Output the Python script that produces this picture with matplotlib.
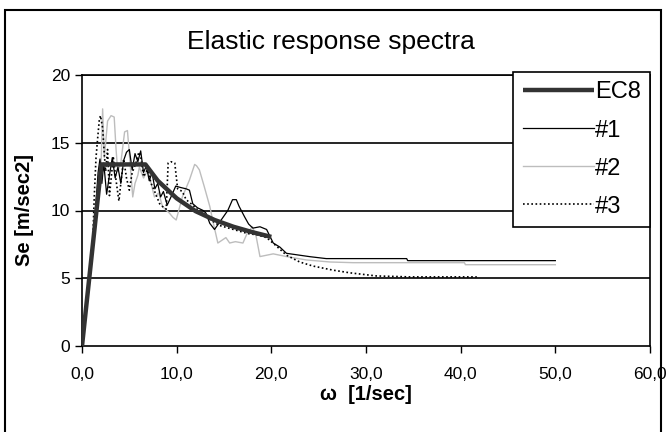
import matplotlib
matplotlib.use("Agg")
import matplotlib.pyplot as plt
from matplotlib.patches import Rectangle

plt.rcParams['font.family'] = ['Liberation Sans', 'DejaVu Sans']

title = "Elastic response spectra"
xlabel = "ω  [1/sec]"
ylabel = "Se [m/sec2]"
xticks = [0, 10, 20, 30, 40, 50, 60]
xticklabels = ["0,0", "10,0", "20,0", "30,0", "40,0", "50,0", "60,0"]
yticks = [0, 5, 10, 15, 20]

ec8_w = [0, 2.05, 6.7, 8.0, 10.0, 12.0, 14.0, 16.0, 18.0, 20.0]
ec8_v = [0, 13.4, 13.4, 12.2, 10.9, 9.95, 9.3, 8.8, 8.4, 8.05]

r1_w = [0, 0.4, 0.8, 1.1, 1.4, 1.7, 1.9, 2.1, 2.3, 2.6, 2.9, 3.2, 3.5, 3.8, 4.1, 4.4,
        4.7, 5.0, 5.3, 5.6, 5.9, 6.2, 6.5, 6.8, 7.1, 7.4, 7.7, 8.0, 8.3, 8.6, 9.0, 9.4,
        9.9, 10.4, 11.0, 11.35, 11.7, 12.2, 12.8, 13.1, 13.5, 14.0, 14.7, 15.4, 15.9,
        16.3, 16.6, 17.2, 17.6, 18.05, 18.8, 19.5, 20.2, 20.9, 21.6, 24.1, 25.8, 34.3,
        34.4, 50.0]
r1_v = [0, 2.5, 4.9, 7.2, 9.8, 12.8, 13.8, 12.0, 13.5, 11.2, 12.6, 13.9, 12.4, 13.2,
        12.0, 13.7, 14.3, 14.5, 13.0, 14.2, 13.6, 14.4, 12.8, 13.3, 12.2, 12.8, 11.6,
        12.0, 11.0, 11.4, 10.4, 11.0, 11.8, 11.7, 11.6, 11.5, 10.5, 10.2, 10.0, 9.8,
        9.05, 8.6, 9.3, 10.0, 10.8, 10.8, 10.3, 9.5, 9.0, 8.7, 8.8, 8.6, 7.6, 7.3,
        6.84, 6.59, 6.45, 6.45, 6.3, 6.3]

r2_w = [0, 0.4, 0.8, 1.2, 1.5, 1.8, 2.0, 2.18, 2.36, 2.7, 3.07, 3.4, 3.6, 3.77, 4.1,
        4.5, 4.8, 5.0, 5.36, 5.6, 5.9, 6.06, 6.5, 6.94, 7.3, 7.65, 8.1, 8.5, 9.24, 9.6,
        9.95, 10.6, 11.35, 11.9, 12.1, 12.4, 12.9, 13.5, 13.8, 14.35, 15.2, 15.6, 16.2,
        17.0, 17.5, 18.0, 18.4, 18.8, 20.2, 21.6, 23.7, 26.2, 28.6, 40.4, 40.5, 50.0]
r2_v = [0, 2.2, 4.6, 7.6, 9.8, 11.1, 13.0, 17.5, 13.9, 16.6, 17.0, 16.9, 14.5, 12.9,
        13.5, 15.8, 15.9, 14.2, 11.0, 12.0, 12.6, 13.2, 12.4, 13.0, 12.0, 11.0, 11.3,
        10.3, 9.8, 9.5, 9.3, 11.0, 12.25, 13.4, 13.3, 13.0, 11.8, 10.3, 9.3, 7.6, 8.0,
        7.6, 7.7, 7.6, 8.4, 8.8, 8.07, 6.6, 6.8, 6.6, 6.35, 6.2, 6.15, 6.15, 6.0, 6.0]

r3_w = [0, 0.4, 0.8, 1.1, 1.3, 1.48, 1.65, 1.83, 1.95, 2.18, 2.36, 2.5, 2.7, 2.9, 3.1,
        3.3, 3.6, 3.9, 4.1, 4.4, 4.7, 5.0, 5.3, 5.7, 6.0, 6.2, 6.5, 6.9, 7.3, 7.8, 8.2,
        8.5, 8.9, 9.1, 9.4, 9.8, 10.1, 10.6, 11.0, 11.7, 12.3, 13.0, 13.6, 14.5, 15.5,
        16.5, 17.5, 18.5, 19.5, 20.5, 21.6, 23.0, 24.4, 26.5, 28.3, 31.1, 34.6, 41.7]
r3_v = [0, 2.3, 5.2, 7.0, 11.1, 13.9, 15.3, 16.7, 17.0, 16.1, 14.1, 12.9, 14.5, 11.1,
        12.5, 14.0, 12.2, 10.7, 12.0, 13.8, 12.4, 11.5, 12.8, 13.5, 14.3, 14.0, 12.5,
        13.0, 12.0, 11.2, 10.5, 10.3, 10.1, 13.5, 13.6, 13.5, 11.6, 11.4, 10.8, 10.4,
        10.0, 9.6, 9.3, 8.9, 8.7, 8.5, 8.3, 8.2, 8.0, 7.4, 6.7, 6.2, 5.9, 5.6, 5.4,
        5.17, 5.1, 5.1]

fig = plt.figure(figsize=(6.68, 4.32), dpi=100)
ax = fig.add_axes([82/668, 86/432, 568/668, 271/432])

ax.plot(r2_w, r2_v, color='#bdbdbd', lw=1.0, label='#2', zorder=3)
ax.plot(r1_w, r1_v, color='black', lw=0.9, label='#1', zorder=4)
ax.plot(r3_w, r3_v, color='black', lw=1.2, ls=(0, (1, 1.5)), label='#3', zorder=5)
ax.plot(ec8_w, ec8_v, color='#333333', lw=3.2, label='EC8', zorder=6,
        solid_capstyle='butt')

ax.set_xlim(0, 60)
ax.set_ylim(0, 20)
ax.set_xticks(xticks)
ax.set_xticklabels(xticklabels)
ax.set_yticks(yticks)
ax.tick_params(labelsize=12.5, direction='out', length=5, width=1, colors='black')
ax.tick_params(axis='x', pad=10)
for y in yticks[1:]:
    ax.axhline(y, color='black', lw=1.2, zorder=1)
for s in ax.spines.values():
    s.set_color('black')
    s.set_linewidth(1.2)

ax.set_xlabel(xlabel, fontsize=14.5, fontweight='bold', labelpad=2)
ax.set_ylabel(ylabel, fontsize=14.5, fontweight='bold', labelpad=12)
fig.text(0.495, 0.903, title, fontsize=19, ha='center', va='center')

handles, labels = ax.get_legend_handles_labels()
order = [3, 1, 0, 2]
leg = ax.legend([handles[i] for i in order], [labels[i] for i in order],
                loc='upper right', bbox_to_anchor=(1.0, 1.011), borderaxespad=0,
                fontsize=17, frameon=True, fancybox=False, edgecolor='black',
                framealpha=1, handlelength=3.0, handletextpad=0.05,
                labelspacing=0.68, borderpad=0.4)
leg.get_frame().set_linewidth(1.2)
leg.set_zorder(10)

fig.patches.append(Rectangle((5/668, -0.01), 656/668, 1 - 10/432 + 0.01,
                             transform=fig.transFigure, fill=False,
                             edgecolor='black', lw=1.5))

fig.savefig('out.png', dpi=100)
